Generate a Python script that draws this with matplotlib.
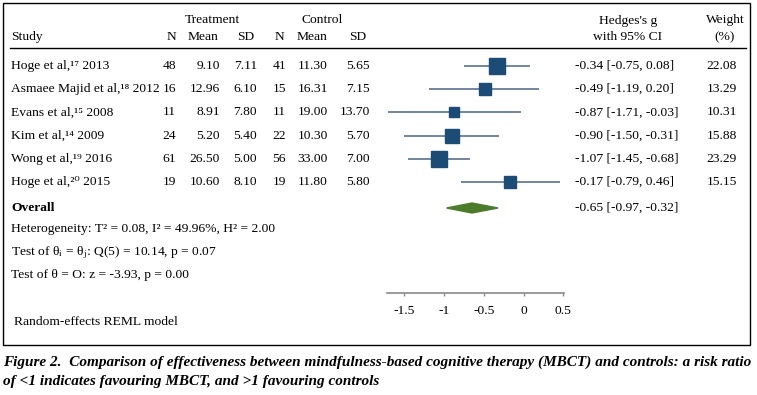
import matplotlib
matplotlib.use('Agg')
import matplotlib.pyplot as plt
from matplotlib.patches import Rectangle, Polygon

plt.rcParams['font.family'] = ['Liberation Serif', 'DejaVu Serif']
plt.rcParams['mathtext.fontset'] = 'stix'

# ---------------------------------------------------------------------------
# Datos
# ---------------------------------------------------------------------------
studies = ['Hoge et al,', 'Asmaee Majid et al,', 'Evans et al,', 'Kim et al,',
           'Wong et al,', 'Hoge et al,']
refs = ['17', '18', '15', '14', '19', '20']
years = ['2013', '2012', '2008', '2009', '2016', '2015']
n_treat = [48, 16, 11, 24, 61, 19]
mean_treat = [9.10, 12.96, 8.91, 5.20, 26.50, 10.60]
sd_treat = [7.11, 6.10, 7.80, 5.40, 5.00, 8.10]
n_ctrl = [41, 15, 11, 22, 56, 19]
mean_ctrl = [11.30, 16.31, 19.00, 10.30, 33.00, 11.80]
sd_ctrl = [5.65, 7.15, 13.70, 5.70, 7.00, 5.80]
g = [-0.34, -0.49, -0.87, -0.90, -1.07, -0.17]
ci_low = [-0.75, -1.19, -1.71, -1.50, -1.45, -0.79]
ci_high = [0.08, 0.20, -0.03, -0.31, -0.68, 0.46]
weight = [22.08, 13.29, 10.31, 15.88, 23.29, 15.15]
overall = (-0.65, -0.97, -0.32)
xticks = [-1.5, -1, -0.5, 0, 0.5]

SUP = str.maketrans('0123456789', '⁰¹²³⁴⁵⁶⁷⁸⁹')

FS = 9.7
W, H = 757, 395
fig = plt.figure(figsize=(W / 100, H / 100), dpi=100)

# capa de fondo en coordenadas de pixel
bg = fig.add_axes([0, 0, 1, 1])
bg.set_xlim(0, W)
bg.set_ylim(H, 0)
bg.axis('off')
bg.add_patch(Rectangle((3, 3), 747, 342, fill=False, lw=1.0, ec='black'))
bg.plot([10, 746], [48, 48], color='black', lw=1.0)

def txt(x, y, s, ha='left', **kw):
    bg.text(x, y, s, ha=ha, va='center', fontsize=kw.pop('fs', FS), **kw)

# cabeceras
txt(212, 20, 'Treatment', ha='center')
txt(322, 20, 'Control', ha='center')
txt(628, 21, "Hedges's g", ha='center')
txt(628, 37, 'with 95% CI', ha='center')
txt(725, 20, 'Weight', ha='center')
txt(725, 37, '(%)', ha='center')
txt(11, 37, 'Study')
for x, s in zip([176, 219, 254, 284, 328, 366], ['N', 'Mean', 'SD', 'N', 'Mean', 'SD']):
    txt(x, 37, s, ha='right')

row_y = [66 + 23.2 * i for i in range(len(studies))]
for i, y in enumerate(row_y):
    txt(11, y, f'{studies[i]}{refs[i].translate(SUP)} {years[i]}')
    txt(176, y, f'{n_treat[i]}', ha='right')
    txt(220, y, f'{mean_treat[i]:.2f}', ha='right')
    txt(257, y, f'{sd_treat[i]:.2f}', ha='right')
    txt(286, y, f'{n_ctrl[i]}', ha='right')
    txt(328, y, f'{mean_ctrl[i]:.2f}', ha='right')
    txt(370, y, f'{sd_ctrl[i]:.2f}', ha='right')
    txt(575, y, f'{g[i]:.2f} [{ci_low[i]:.2f}, {ci_high[i]:.2f}]')
    txt(737, y, f'{weight[i]:.2f}', ha='right')

txt(11, 208, 'Overall', fontweight='bold')
txt(575, 208, f'{overall[0]:.2f} [{overall[1]:.2f}, {overall[2]:.2f}]')
txt(11, 229, 'Heterogeneity: T² = 0.08, I² = 49.96%, H² = 2.00')
txt(11, 253, r'Test of θ$_\mathrm{i}$ = θ$_\mathrm{j}$: Q(5) = 10.14, p = 0.07')
txt(11, 275, 'Test of θ = O: z = -3.93, p = 0.00')
txt(14, 322, 'Random-effects REML model')

cap_kw = dict(fontweight='bold', fontstyle='italic', fs=11)
txt(3, 362, 'Figure 2.  Comparison of effectiveness between mindfulness-based cognitive '
            'therapy (MBCT) and controls: a risk ratio', **cap_kw)
txt(3, 382, 'of <1 indicates favouring MBCT, and >1 favouring controls', **cap_kw)

# panel del forest plot
px0, px1 = 387, 564
py_top, py_axis = 50, 293
ax = fig.add_axes([px0 / W, (H - py_axis) / H, (px1 - px0) / W, (py_axis - py_top) / H])
ax.patch.set_alpha(0)
ax.set_xlim(-1.72, 0.51)
ax.set_ylim((py_axis - 66) / 23.2, (py_top - 66) / 23.2)
for s in ['top', 'left', 'right']:
    ax.spines[s].set_visible(False)
ax.spines['bottom'].set_color('#8a8a8a')
ax.spines['bottom'].set_linewidth(1.2)
ax.set_yticks([])
ax.set_xticks(xticks)
ax.set_xticklabels(['-1.5', '-1', '-0.5', '0', '0.5'])
ax.tick_params(axis='x', length=2.5, width=1, color='#8a8a8a', pad=6, labelsize=FS)

for i in range(len(g)):
    ax.plot([ci_low[i], ci_high[i]], [i, i], color='#7086a0', lw=1.4,
            solid_capstyle='butt', clip_on=False, zorder=2)
    side = 3.3 * weight[i] ** 0.5 * 0.72
    ax.plot(g[i], i, marker='s', ms=side, color='#1c4b75', mec='#1c4b75',
            clip_on=False, zorder=3)

oy = (208 - 66) / 23.2
dh = 5 / 23.2
ax.add_patch(Polygon([(overall[1], oy), (overall[0], oy - dh), (overall[2], oy),
                      (overall[0], oy + dh)], closed=True, color='#4b7b2b',
                     clip_on=False, zorder=3))

fig.savefig('out.png', dpi=100)
